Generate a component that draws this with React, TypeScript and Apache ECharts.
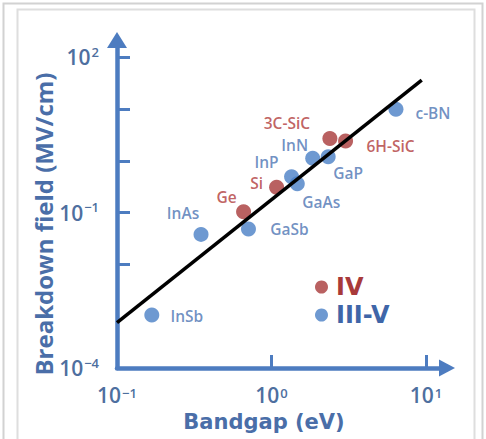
import React, { useEffect, useRef } from "react";
import * as echarts from "echarts";

// ---- data ----
const groupIVNames = ["Ge", "Si", "3C-SiC", "6H-SiC"];
const groupIVBandgap = [0.66, 1.08, 2.39, 3.02];
const groupIVField = [0.104, 0.31, 2.7, 2.4];

const groupIIIVNames = ["InSb", "InAs", "GaSb", "InP", "GaAs", "InN", "GaP", "c-BN"];
const groupIIIVBandgap = [0.168, 0.35, 0.71, 1.35, 1.47, 1.85, 2.33, 6.4];
const groupIIIVField = [0.00105, 0.038, 0.048, 0.49, 0.36, 1.12, 1.2, 9.9];

const fitBandgap = [0.1, 9.4];
const fitField = [0.00075, 36];

const xLabelTicks = [0.1, 1, 10];
const xMarkTicks = [1, 10];
const yLabelTicks = [0.0001, 0.1, 100];
const yMarkTicks = [100, 10, 1, 0.1, 0.01];

// label offsets (layout, kept apart from the data)
const labelOffsets: Record<string, [number, number]> = {
  InSb: [35, 1],
  InAs: [-18, -21],
  GaSb: [41, 0],
  Ge: [-17, -15],
  Si: [-20, -4],
  InP: [-25, -15],
  GaAs: [24, 18],
  InN: [-18, -13],
  GaP: [20, 16],
  "3C-SiC": [-43, -15],
  "6H-SiC": [45, 5],
  "c-BN": [37, 4],
};

const BLUE = "#4a80c6";
const RED = "#a83a3a";
const AXIS = "#4d7cc0";
const TICKTXT = "#4e6f9f";
const FONT = "'Open Sans', 'Noto Sans', sans-serif";

function supFormatter(v: number) {
  const e = Math.round(Math.log10(v));
  const s = e < 0 ? "\u2212" + -e : String(e);
  return "{b|10}{s|" + s + "}";
}

const richTickY = {
  b: { fontSize: 21, fontWeight: 600, color: TICKTXT, fontFamily: FONT, lineHeight: 24 },
  s: { fontSize: 13, fontWeight: 600, color: TICKTXT, fontFamily: FONT, lineHeight: 24, verticalAlign: "top" as const, padding: [0, 0, 10, 1] },
};
const richTickX = {
  b: { fontSize: 21, fontWeight: 600, color: TICKTXT, fontFamily: FONT, lineHeight: 18 },
  s: { fontSize: 13, fontWeight: 600, color: TICKTXT, fontFamily: FONT, lineHeight: 10, verticalAlign: "top" as const, padding: [0, 0, 8, 1] },
};

function buildPoints(names: string[], xs: number[], ys: number[], color: string) {
  return names.map((n, i) => ({
    name: n,
    value: [xs[i], ys[i]],
    label: { offset: labelOffsets[n] || [0, 0], color },
  }));
}

export default function App() {
  const ref = useRef<HTMLDivElement>(null);
  useEffect(() => {
    if (!ref.current) return;
    const chart = echarts.init(ref.current, undefined, { renderer: "svg" });
    const pointLabel = {
      show: true,
      position: "inside" as const,
      formatter: "{b}",
      fontSize: 15.5,
      lineHeight: 16,
      fontWeight: 600,
      fontFamily: FONT,
    };
    chart.setOption({
      animation: false,
      backgroundColor: "#ffffff",
      graphic: [
        { type: "rect", shape: { x: 3.5, y: 3.5, width: 479, height: 480 }, style: { fill: "none", stroke: "#d2d2d2", lineWidth: 2 }, silent: true },
        { type: "rect", shape: { x: 17.5, y: 9.5, width: 457, height: 480 }, style: { fill: "none", stroke: "#dedede", lineWidth: 2 }, silent: true },
      ],
      grid: { left: 117, right: 39, top: 40, bottom: 71, containLabel: false },
      xAxis: {
        type: "log",
        logBase: 10,
        min: 0.1,
        max: 13.7,
        name: "Bandgap (eV)",
        nameLocation: "middle",
        nameGap: 43,
        nameMoveOverlap: false,
        nameTextStyle: { fontSize: 21, fontWeight: "bold", color: "#4a6ea8", fontFamily: "'DejaVu Sans', sans-serif", padding: [0, 36, 0, 0] },
        axisLine: { show: true, lineStyle: { color: AXIS, width: 4.5 }, symbol: ["none", "triangle"], symbolSize: [17, 16] },
        axisTick: { show: true, inside: true, length: 13, lineStyle: { color: AXIS, width: 3 }, customValues: xMarkTicks },
        axisLabel: { customValues: xLabelTicks, formatter: supFormatter, rich: richTickX, margin: 18 },
        splitLine: { show: false },
        minorTick: { show: false },
      },
      yAxis: {
        type: "log",
        logBase: 10,
        min: 0.0001,
        max: 215,
        name: "Breakdown field (MV/cm)",
        nameLocation: "middle",
        nameGap: 62,
        nameMoveOverlap: false,
        nameRotate: 90,
        nameTextStyle: { fontSize: 24, fontWeight: "bold", color: "#4a6ea8", fontFamily: FONT, padding: [0, 40, 0, 0] },
        axisLine: { show: true, lineStyle: { color: AXIS, width: 4.5 }, symbol: ["none", "triangle"], symbolSize: [20, 16] },
        axisTick: { show: true, inside: true, length: 13, lineStyle: { color: AXIS, width: 3 }, customValues: yMarkTicks },
        axisLabel: { customValues: yLabelTicks, formatter: supFormatter, rich: richTickY, margin: 18 },
        splitLine: { show: false },
        minorTick: { show: false },
      },
      legend: {
        data: [
          { name: "IV", textStyle: { color: RED } },
          { name: "III-V", textStyle: { color: "#3f66a8" } },
        ],
        orient: "vertical",
        left: 310,
        top: 268,
        itemWidth: 13,
        itemHeight: 13,
        itemGap: 0,
        icon: "circle",
        textStyle: { fontSize: 24, fontWeight: "bold", fontFamily: "'DejaVu Sans', sans-serif", lineHeight: 28, padding: [0, 0, 0, 3] },
        selectedMode: false,
      },
      series: [
        {
          name: "fit",
          type: "line",
          data: fitBandgap.map((x, i) => [x, fitField[i]]),
          showSymbol: false,
          lineStyle: { color: "#000", width: 3.5 },
          z: 5,
          silent: true,
        },
        {
          name: "IV",
          type: "scatter",
          symbol: "circle",
          symbolSize: 15,
          itemStyle: { color: RED },
          label: pointLabel,
          data: buildPoints(groupIVNames, groupIVBandgap, groupIVField, "#b03a3a"),
          z: 3,
        },
        {
          name: "III-V",
          type: "scatter",
          symbol: "circle",
          symbolSize: 15,
          itemStyle: { color: BLUE },
          label: pointLabel,
          data: buildPoints(groupIIIVNames, groupIIIVBandgap, groupIIIVField, "#4d74b3"),
          z: 3,
        },
      ],
    });
    return () => chart.dispose();
  }, []);
  return <div ref={ref} style={{ position: "fixed", left: 0, top: 0, width: 486, height: 439 }} />;
}
